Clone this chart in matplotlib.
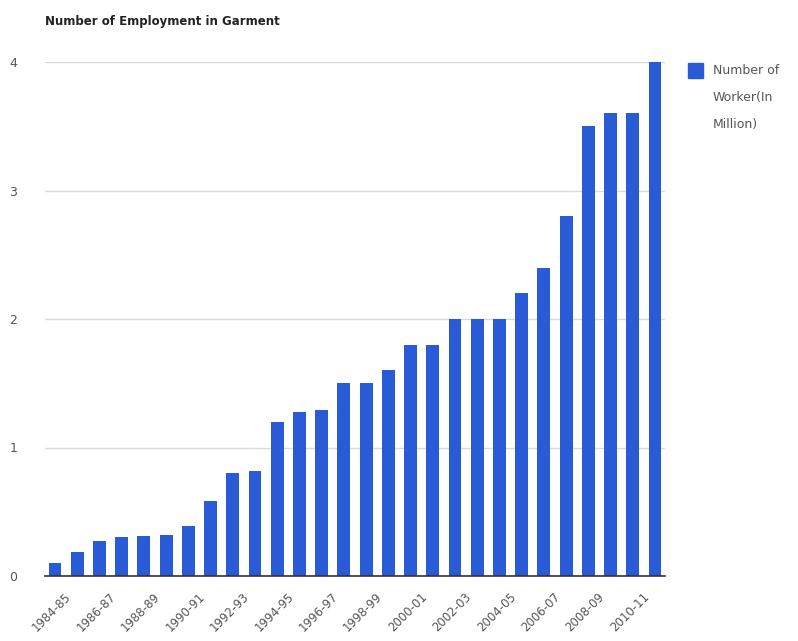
import numpy as np
import matplotlib.pyplot as plt
from matplotlib.transforms import ScaledTranslation

# fiscal years and garment workers (million)
years = ['1984-85', '1985-86', '1986-87', '1987-88', '1988-89', '1989-90', '1990-91',
         '1991-92', '1992-93', '1993-94', '1994-95', '1995-96', '1996-97', '1997-98',
         '1998-99', '1999-00', '2000-01', '2001-02', '2002-03', '2003-04', '2004-05',
         '2005-06', '2006-07', '2007-08', '2008-09', '2009-10', '2010-11', '2011-12']
workers = [0.10, 0.19, 0.27, 0.30, 0.31, 0.32, 0.39, 0.58, 0.80, 0.82, 1.20, 1.28,
           1.29, 1.50, 1.50, 1.60, 1.80, 1.80, 2.00, 2.00, 2.00, 2.20, 2.40, 2.80,
           3.50, 3.60, 3.60, 4.00]

bar_color = '#2a5bd7'
text_color = '#555555'

fig = plt.figure(figsize=(7.98, 6.41), dpi=100)
ax = fig.add_axes([45 / 798, 65 / 641, 620 / 798, 514 / 641])

x = np.arange(len(years))
ax.bar(x, workers, width=0.58, color=bar_color, zorder=3)

ax.set_ylim(0, 4)
ax.set_xlim(-0.45, len(years) - 0.55)
ax.set_yticks([0, 1, 2, 3, 4])
ax.set_yticklabels(['0', '1', '2', '3', '4'])
ax.yaxis.grid(True, color='#d9d9d9', linewidth=1, zorder=0)

ax.set_xticks(x[::2])
ax.set_xticklabels(years[::2], rotation=45, ha='right', rotation_mode='anchor',
                   fontsize=8.5, color=text_color)
ax.tick_params(axis='x', length=0, pad=10)
ax.tick_params(axis='y', length=0, pad=20, labelsize=9, labelcolor=text_color)
# nudge the slanted year labels so they end just right of each bar
shift = ScaledTranslation(7 / 72, 0, fig.dpi_scale_trans)
for lbl in ax.get_xticklabels():
    lbl.set_transform(lbl.get_transform() + shift)

for side in ['top', 'right', 'left']:
    ax.spines[side].set_visible(False)
ax.spines['bottom'].set_color('#333333')
ax.spines['bottom'].set_linewidth(1.2)
ax.spines['bottom'].set_zorder(4)

fig.text(45 / 798, 1 - 22 / 641, 'Number of Employment in Garment',
         fontsize=8.5, fontweight='bold', color='#222222', va='center')

# legend drawn by hand so the label wraps like the original
fig.patches.append(plt.Rectangle((688 / 798, 1 - 78 / 641), 15 / 798, 15 / 641,
                                 transform=fig.transFigure, color=bar_color))
fig.text(713 / 798, 1 - 64 / 641, 'Number of\nWorker(In\nMillion)', fontsize=9,
         color=text_color, va='top', linespacing=2.4)

plt.savefig('out.png', dpi=100)
